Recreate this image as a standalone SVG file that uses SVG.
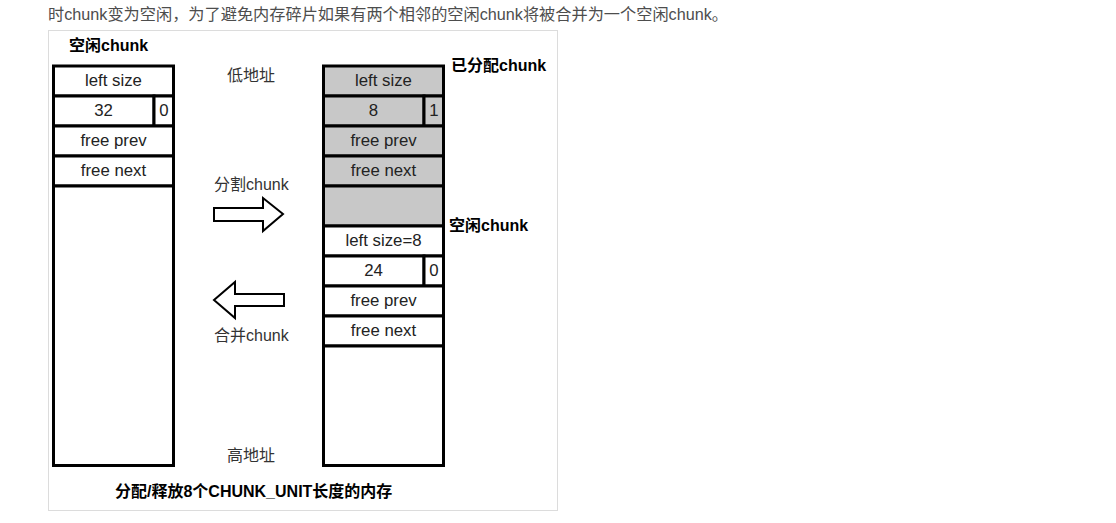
<svg xmlns="http://www.w3.org/2000/svg" width="1116" height="523" viewBox="0 0 1116 523">
<style>
.t{font-family:"Liberation Sans","Noto Sans CJK SC",sans-serif;}
.cell{stroke:#000;stroke-width:3;}
.w{fill:#fff;}
.g{fill:#c8c8c8;}
.ct{font-family:"Liberation Sans","Noto Sans CJK SC",sans-serif;font-size:16.8px;fill:#222;text-anchor:middle;}
.lb{font-family:"Liberation Sans","Noto Sans CJK SC",sans-serif;font-size:16px;fill:#333;}
.bd{font-family:"Liberation Sans","Noto Sans CJK SC",sans-serif;font-size:16px;font-weight:bold;fill:#000;}
.arr{fill:#fff;stroke:#000;stroke-width:2;}
</style>
<rect width="1116" height="523" fill="#fff"/>
<text class="t" x="48" y="20" font-size="16.2" fill="#4d4d4d">时chunk变为空闲，为了避免内存碎片如果有两个相邻的空闲chunk将被合并为一个空闲chunk。</text>
<rect x="48.5" y="30.5" width="509" height="480" fill="#fff" stroke="#dcdcdc" stroke-width="1"/>

<g id="left-chunk">
<text class="bd" x="69" y="51">空闲chunk</text>
<rect class="cell w" x="53.5" y="66" width="120" height="30"/>
<rect class="cell w" x="53.5" y="96" width="100.5" height="30"/>
<rect class="cell w" x="154" y="96" width="19.5" height="30"/>
<rect class="cell w" x="53.5" y="126" width="120" height="30"/>
<rect class="cell w" x="53.5" y="156" width="120" height="30"/>
<rect class="cell w" x="53.5" y="186" width="120" height="279.5"/>
<text class="ct" x="113.5" y="85.5">left size</text>
<text class="ct" x="103.5" y="115.5">32</text>
<text class="ct" x="163.8" y="115.5">0</text>
<text class="ct" x="113.5" y="145.5">free prev</text>
<text class="ct" x="113.5" y="175.5">free next</text>
</g>

<g id="right-chunk">
<text class="bd" x="451" y="71">已分配chunk</text>
<rect class="cell g" x="323.5" y="66" width="120" height="30"/>
<rect class="cell g" x="323.5" y="96" width="100.5" height="30"/>
<rect class="cell g" x="424" y="96" width="19.5" height="30"/>
<rect class="cell g" x="323.5" y="126" width="120" height="30"/>
<rect class="cell g" x="323.5" y="156" width="120" height="30"/>
<rect class="cell g" x="323.5" y="186" width="120" height="40"/>
<text class="bd" x="449" y="231">空闲chunk</text>
<rect class="cell w" x="323.5" y="226" width="120" height="30"/>
<rect class="cell w" x="323.5" y="256" width="100.5" height="30"/>
<rect class="cell w" x="424" y="256" width="19.5" height="30"/>
<rect class="cell w" x="323.5" y="286" width="120" height="30"/>
<rect class="cell w" x="323.5" y="316" width="120" height="30"/>
<rect class="cell w" x="323.5" y="346" width="120" height="119.5"/>
<text class="ct" x="383.5" y="85.5">left size</text>
<text class="ct" x="373.5" y="115.5">8</text>
<text class="ct" x="433.8" y="115.5">1</text>
<text class="ct" x="383.5" y="145.5">free prev</text>
<text class="ct" x="383.5" y="175.5">free next</text>
<text class="ct" x="383.5" y="245.5">left size=8</text>
<text class="ct" x="373.5" y="275.5">24</text>
<text class="ct" x="433.8" y="275.5">0</text>
<text class="ct" x="383.5" y="305.5">free prev</text>
<text class="ct" x="383.5" y="335.5">free next</text>
</g>

<g id="labels">
<text class="lb" x="251" y="81" text-anchor="middle">低地址</text>
<text class="lb" x="251" y="461" text-anchor="middle">高地址</text>
<text class="lb" x="214" y="190">分割chunk</text>
<text class="lb" x="214" y="341">合并chunk</text>
<text class="bd" x="115" y="497">分配/释放8个CHUNK_UNIT长度的内存</text>
</g>

<g id="connectors">
<polygon class="arr" points="214,208 263,208 263,198 283,214 263,231 263,221 214,221"/>
<polygon class="arr" points="284,294 235,294 235,282 214,300 235,318 235,306 284,306"/>
</g>
</svg>
